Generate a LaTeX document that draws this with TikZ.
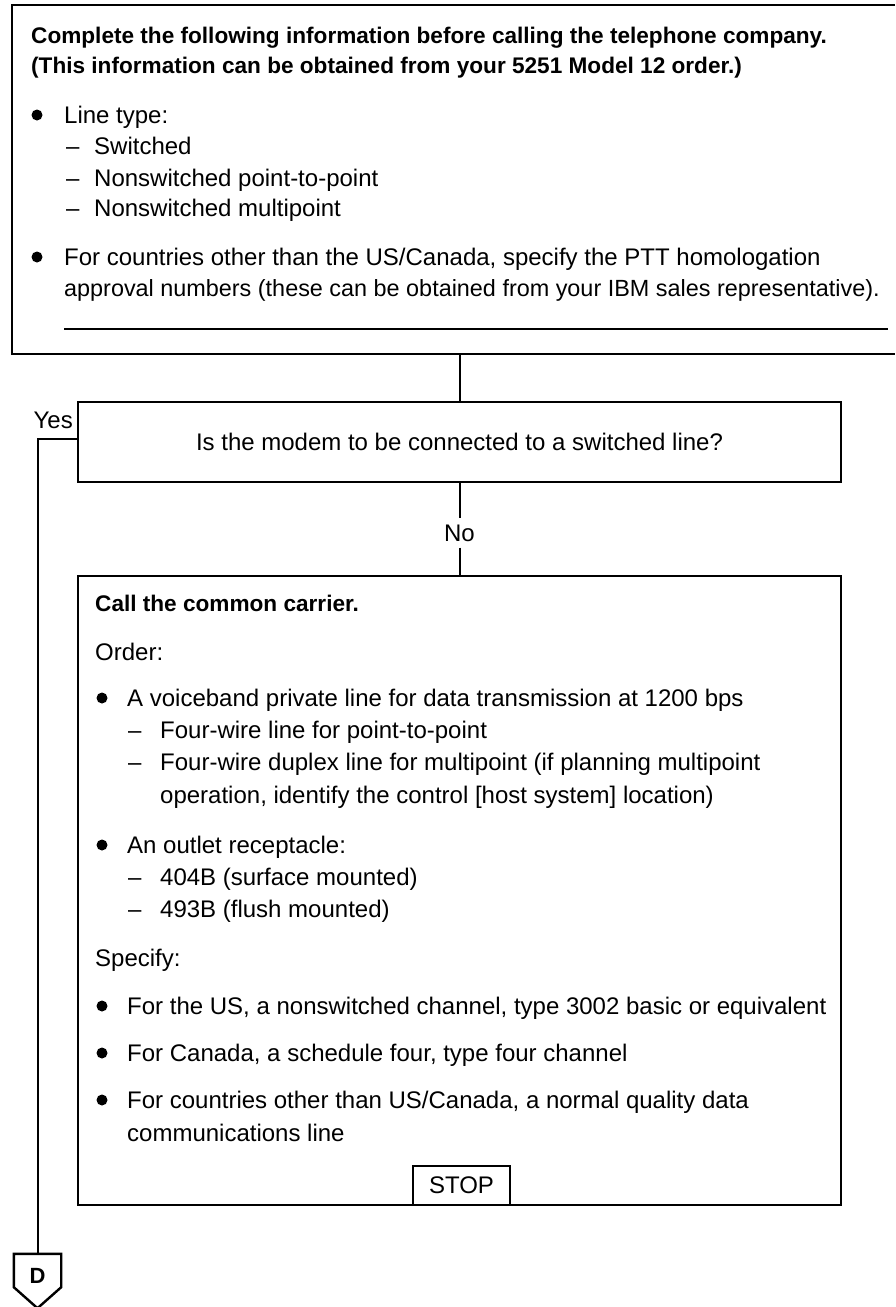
\documentclass[tikz,border=0pt]{standalone}
\usepackage{fontspec}
\setmainfont{Liberation Sans}
\begin{document}
\begin{tikzpicture}[x=1pt,y=-1pt,
  box/.style={draw,line width=2.4pt},
  conn/.style={line width=2pt},
  txt/.style={anchor=base west,inner sep=0pt,font=\fontsize{24}{29}\selectfont},
  btxt/.style={anchor=base west,inner sep=0pt,font=\bfseries\fontsize{22.6}{28}\selectfont},
  lbl/.style={inner sep=0pt,font=\fontsize{24}{29}\selectfont},
  dot/.style={circle,fill,inner sep=0pt,minimum size=11pt}]
\useasboundingbox (0,0) rectangle (895,1307);

% ---------- top information box ----------
\draw[box] (895,5) -- (12,5) -- (12,354) -- (895,354);
\coordinate (topbot) at (459.5,354);
\node[btxt] (h1) at (31,43) {Complete the following information before calling the telephone company.};
\node[btxt] (h2) at (31,73) {(This information can be obtained from your 5251 Model 12 order.)};
\node[dot] (tb1) at (37,115) {};
\node[txt] (t1) at (64,123) {Line type:};
\node[txt] (td1) at (66,154) {–};
\node[txt] (t2) at (94,154) {Switched};
\node[txt] (td2) at (66,186) {–};
\node[txt] (t3) at (94,186) {Nonswitched point-to-point};
\node[txt] (td3) at (66,216) {–};
\node[txt] (t4) at (94,216) {Nonswitched multipoint};
\node[dot] (tb2) at (37,257) {};
\node[txt] (t5) at (64,265) {For countries other than the US/Canada, specify the PTT homologation};
\node[txt,font=\fontsize{23.4}{29}\selectfont] (t6) at (64,296) {approval numbers (these can be obtained from your IBM sales representative).};
\draw[line width=1.6pt] (64,329) -- (888,329);

% ---------- decision ----------
\node[box,minimum width=763pt,minimum height=80pt,inner sep=0pt,
      font=\fontsize{24}{29}\selectfont] (dec) at (459.5,442)
      {Is the modem to be connected to a switched line?};
\draw[conn] (topbot) -- (dec.north);

\node[lbl,anchor=base east] (yes) at (73,428) {Yes};
\node[lbl,inner ysep=6pt] (no) at (459.5,533) {No};

% ---------- call box ----------
\node[box,minimum width=763pt,minimum height=629pt] (call) at (459.5,890.5) {};
\draw[conn] (dec.south) -- (no.north);
\draw[conn] (no.south) -- (call.north);

\node[btxt] (c1) at (95,611) {Call the common carrier.};
\node[txt] (c2) at (95,660) {Order:};
\node[dot] (cb1) at (102,698) {};
\node[txt] (c3) at (127,706) {A voiceband private line for data transmission at 1200 bps};
\node[txt] (cd1) at (128,738) {–};
\node[txt] (c4) at (160,738) {Four-wire line for point-to-point};
\node[txt] (cd2) at (128,770) {–};
\node[txt] (c5) at (160,770) {Four-wire duplex line for multipoint (if planning multipoint};
\node[txt] (c6) at (160,803) {operation, identify the control [host system] location)};
\node[dot] (cb2) at (102,845) {};
\node[txt] (c7) at (127,853) {An outlet receptacle:};
\node[txt] (cd3) at (128,885) {–};
\node[txt] (c8) at (160,885) {404B (surface mounted)};
\node[txt] (cd4) at (128,917) {–};
\node[txt] (c9) at (160,917) {493B (flush mounted)};
\node[txt] (c10) at (95,966) {Specify:};
\node[dot] (cb3) at (102,1006) {};
\node[txt] (c11) at (127,1014) {For the US, a nonswitched channel, type 3002 basic or equivalent};
\node[dot] (cb4) at (102,1053) {};
\node[txt] (c12) at (127,1061) {For Canada, a schedule four, type four channel};
\node[dot] (cb5) at (102,1100) {};
\node[txt] (c13) at (127,1108) {For countries other than US/Canada, a normal quality data};
\node[txt] (c14) at (127,1141) {communications line};

\node[box,fill=white,minimum width=97pt,minimum height=39pt,inner sep=0pt,
      font=\fontsize{24}{29}\selectfont] (stop) at (461.5,1185.5) {STOP};

% ---------- off-page connector D ----------
\node[minimum width=47pt,minimum height=54pt,inner sep=0pt] (dconn) at (37.5,1281) {};
\draw[box,line join=miter] (dconn.north west) -- (dconn.north east)
  -- ([yshift=21pt]dconn.south east) -- (dconn.south)
  -- ([yshift=21pt]dconn.south west) -- cycle;
\node[inner sep=0pt,font=\bfseries\fontsize{22}{26}\selectfont] (dlab) at (37.5,1276) {D};

\coordinate (yesturn) at (37.5,439);
\draw[conn] ([yshift=3pt]dec.west) -- (yesturn) -- (dconn.north);
\end{tikzpicture}
\end{document}
